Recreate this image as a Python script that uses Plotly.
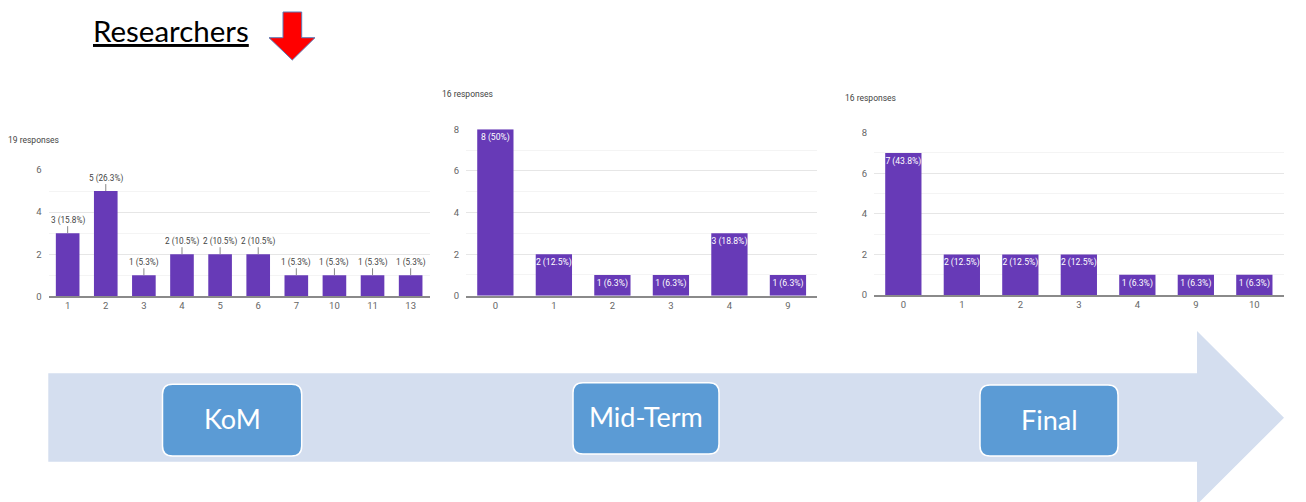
import plotly.graph_objects as go

W, H = 1306, 502

# ---- data ----
kom_cats = ["1", "2", "3", "4", "5", "6", "7", "10", "11", "13"]
kom_counts = [3, 5, 1, 2, 2, 2, 1, 1, 1, 1]
kom_labels = ["3 (15.8%)", "5 (26.3%)", "1 (5.3%)", "2 (10.5%)", "2 (10.5%)",
              "2 (10.5%)", "1 (5.3%)", "1 (5.3%)", "1 (5.3%)", "1 (5.3%)"]
kom_responses = "19 responses"

mid_cats = ["0", "1", "2", "3", "4", "9"]
mid_counts = [8, 2, 1, 1, 3, 1]
mid_labels = ["8 (50%)", "2 (12.5%)", "1 (6.3%)", "1 (6.3%)", "3 (18.8%)", "1 (6.3%)"]
mid_responses = "16 responses"

fin_cats = ["0", "1", "2", "3", "4", "9", "10"]
fin_counts = [7, 2, 2, 2, 1, 1, 1]
fin_labels = ["7 (43.8%)", "2 (12.5%)", "2 (12.5%)", "2 (12.5%)", "1 (6.3%)", "1 (6.3%)", "1 (6.3%)"]
fin_responses = "16 responses"

stages = ["KoM", "Mid-Term", "Final"]

PURPLE = "#673AB7"
SMALL_FONT = "Liberation Sans Narrow, Roboto, Arial"
BIG_FONT = "Lato, Open Sans, sans-serif"


def px(x):
    return x / W


def py(y):
    return 1 - y / H


def rounded_box(x0, y0, x1, y1, r=10):
    # path in paper coords built from pixel corners
    pts = [
        f"M {px(x0 + r)},{py(y0)}", f"L {px(x1 - r)},{py(y0)}", f"Q {px(x1)},{py(y0)} {px(x1)},{py(y0 + r)}",
        f"L {px(x1)},{py(y1 - r)}", f"Q {px(x1)},{py(y1)} {px(x1 - r)},{py(y1)}",
        f"L {px(x0 + r)},{py(y1)}", f"Q {px(x0)},{py(y1)} {px(x0)},{py(y1 - r)}",
        f"L {px(x0)},{py(y0 + r)}", f"Q {px(x0)},{py(y0)} {px(x0 + r)},{py(y0)}", "Z",
    ]
    return " ".join(pts)


fig = go.Figure()

# (cats, counts, labels, axis suffix, x px domain, y px (bottom, top), y max, label inside?)
panels = [
    (kom_cats, kom_counts, kom_labels, "", (48.6, 429.7), (296.3, 170), 6, False),
    (mid_cats, mid_counts, mid_labels, "2", (466.1, 817.2), (295.8, 129.3), 8, True),
    (fin_cats, fin_counts, fin_labels, "3", (874.1, 1283.6), (295.0, 132.7), 8, True),
]

for cats, counts, labels, ax, (xl, xr), (yb, yt), ymax, inside in panels:
    trace = dict(
        x=cats, y=counts, marker=dict(color=PURPLE, line=dict(width=0)), width=0.62,
        xaxis="x" + ax, yaxis="y" + ax, showlegend=False, hoverinfo="skip",
    )
    if inside:
        trace.update(text=labels, textposition="inside", insidetextanchor="end",
                     constraintext="none", textangle=0,
                     insidetextfont=dict(color="white", size=8.6, family=SMALL_FONT))
    fig.add_trace(go.Bar(**trace))
    if not inside:
        # category axis: place by category index
        for i, (v, t) in enumerate(zip(counts, labels)):
            fig.add_annotation(
                x=i, y=v, xref="x" + ax, yref="y" + ax, text=t, showarrow=True,
                ax=0, ay=-13, arrowhead=0, arrowwidth=1, arrowcolor="#888", standoff=0,
                font=dict(size=8.2, color="#444", family=SMALL_FONT), borderpad=0,
            )
    fig.update_layout(**{
        "xaxis" + ax: dict(
            domain=[px(xl), px(xr)], anchor="y" + ax, type="category", automargin=False,
            showline=True, linecolor="#8A8A8A", linewidth=1.5, ticks="",
            tickfont=dict(size=9.5, color="#666", family=SMALL_FONT), fixedrange=True,
        ),
        "yaxis" + ax: dict(
            domain=[py(yb), py(yt)], anchor="x" + ax, range=[0, ymax], dtick=2, automargin=False,
            showgrid=True, gridcolor="#E6E6E6", gridwidth=1, zeroline=False,
            minor=dict(dtick=1, showgrid=True, gridcolor="#F4F4F4"),
            ticks="", ticklabelstandoff=6,
            tickfont=dict(size=9.5, color="#666", family=SMALL_FONT), fixedrange=True,
        ),
    })

# "N responses" captions
for t, (x, y) in zip([kom_responses, mid_responses, fin_responses],
                     [(6, 140), (440, 94), (843, 98)]):
    fig.add_annotation(x=px(x), y=py(y), xref="paper", yref="paper", text=t,
                       showarrow=False, xanchor="left", yanchor="middle",
                       font=dict(size=8.5, color="#444", family=SMALL_FONT))

shapes = []
# timeline arrow
body = [(48.3, 373.3), (1197, 373.3), (1197, 331), (1284, 417.7), (1197, 504.5), (1197, 461.7), (48.3, 461.7)]
shapes.append(dict(type="path", xref="paper", yref="paper", layer="below",
                   path="M " + " L ".join(f"{px(a)},{py(b)}" for a, b in body) + " Z",
                   fillcolor="#D4DEEF", line=dict(width=0)))
# stage boxes
boxes = [(162.5, 384.3, 301.7, 456), (573, 382.7, 719, 454), (980, 385, 1118, 456)]
for (x0, y0, x1, y1), name in zip(boxes, stages):
    shapes.append(dict(type="path", xref="paper", yref="paper", path=rounded_box(x0, y0, x1, y1),
                       fillcolor="#5B9BD5", line=dict(color="white", width=1.5)))
    fig.add_annotation(x=px((x0 + x1) / 2), y=py((y0 + y1) / 2 - 1.5), xref="paper", yref="paper",
                       text=name, showarrow=False, xanchor="center", yanchor="middle",
                       font=dict(size=27, color="white", family=BIG_FONT))

# red down arrow next to the title
red = [(283, 12), (301.7, 12), (301.7, 37.7), (315, 37.7), (292.3, 60), (269, 37.7), (283, 37.7)]
shapes.append(dict(type="path", xref="paper", yref="paper",
                   path="M " + " L ".join(f"{px(a)},{py(b)}" for a, b in red) + " Z",
                   fillcolor="#FF0000", line=dict(color="#5B7DB8", width=1)))

fig.add_annotation(x=px(91), y=py(31), xref="paper", yref="paper", text="<u>Researchers</u>",
                   showarrow=False, xanchor="left", yanchor="middle",
                   font=dict(size=29.5, color="#000", family=BIG_FONT))

fig.update_layout(
    width=W, height=H, margin=dict(l=0, r=0, t=0, b=0, autoexpand=False),
    paper_bgcolor="white", plot_bgcolor="white",
    shapes=shapes, bargap=0.38,
)

# drop the default 8px page margin and any extra scroll height
page_fix = (
    "document.documentElement.style.margin='0';document.documentElement.style.overflow='hidden';"
    "document.body.style.margin='0';document.body.style.overflow='hidden';"
    "document.body.style.height='502px';"
)
fig.write_html("out.html", config={"displayModeBar": False}, post_script=page_fix)
